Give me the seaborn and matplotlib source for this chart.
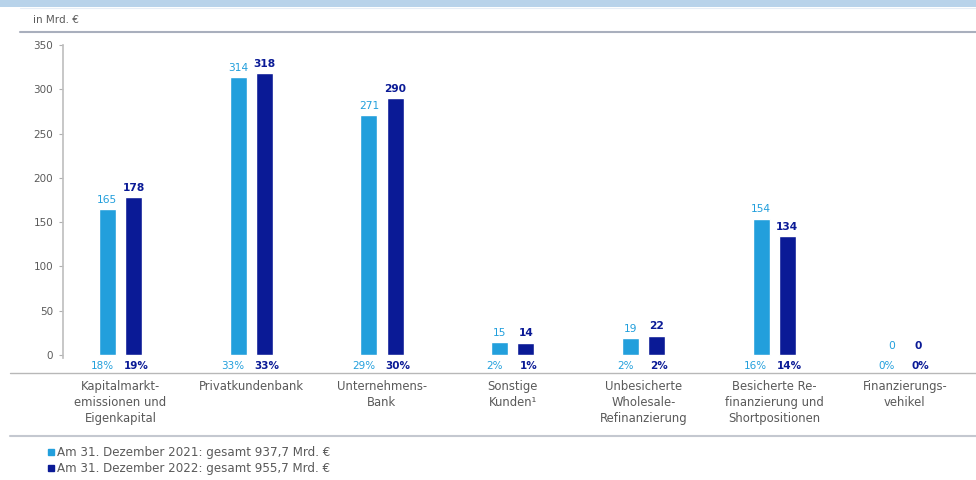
import matplotlib
matplotlib.use("Agg")
import matplotlib.pyplot as plt
from matplotlib.lines import Line2D
from matplotlib.patches import Rectangle
import seaborn as sns
import pandas as pd

categories = [
    "Kapitalmarkt-\nemissionen und\nEigenkapital",
    "Privatkundenbank",
    "Unternehmens-\nBank",
    "Sonstige\nKunden¹",
    "Unbesicherte\nWholesale-\nRefinanzierung",
    "Besicherte Re-\nfinanzierung und\nShortpositionen",
    "Finanzierungs-\nvehikel",
]
series = [
    "Am 31. Dezember 2021: gesamt 937,7 Mrd. €",
    "Am 31. Dezember 2022: gesamt 955,7 Mrd. €",
]
values_2021 = [165, 314, 271, 15, 19, 154, 0]
values_2022 = [178, 318, 290, 14, 22, 134, 0]
shares_2021 = ["18%", "33%", "29%", "2%", "2%", "16%", "0%"]
shares_2022 = ["19%", "33%", "30%", "1%", "2%", "14%", "0%"]
yticks = [0, 50, 100, 150, 200, 250, 300, 350]

LIGHT = "#229fdc"
DARK = "#0a1a96"
GREY = "#5a5a5a"

df = pd.DataFrame({
    "Kategorie": categories * 2,
    "Serie": [series[0]] * len(categories) + [series[1]] * len(categories),
    "Wert": values_2021 + values_2022,
})

sns.set_theme(style="white")
plt.rcParams["font.family"] = ["DejaVu Sans"]

fig = plt.figure(figsize=(9.76, 4.8), dpi=100)
ax = fig.add_axes([0.0645, 0.223, 0.935, 0.683])

sns.barplot(data=df, x="Kategorie", y="Wert", hue="Serie",
            palette=[LIGHT, DARK], saturation=1, width=0.4, gap=0.35,
            order=categories, hue_order=series, ax=ax, legend=True)

ax.set_xlim(-0.44, 6.54)
ax.set_ylim(-20.3, 350)
ax.set_yticks(yticks)
ax.set_yticklabels([str(t) for t in yticks], color=GREY, fontsize=7.5)
ax.set_xlabel("")
ax.set_ylabel("")
ax.tick_params(axis="y", length=3, color="#b0b0b0", width=0.8, pad=4, left=True)
ax.tick_params(axis="x", length=0, pad=5)
ax.set_xticks(range(len(categories)))
ax.set_xticklabels(categories, fontsize=8.4, color=GREY, linespacing=1.3)
for side in ["top", "right", "bottom"]:
    ax.spines[side].set_visible(False)
ax.spines["left"].set_color("#c0c0c0")
ax.spines["left"].set_bounds(-3, 350)

# value labels above bars
ax.bar_label(ax.containers[0], labels=[str(v) for v in values_2021],
             padding=3, color=LIGHT, fontsize=7.7)
ax.bar_label(ax.containers[1], labels=[str(v) for v in values_2022],
             padding=3, color=DARK, fontsize=7.7, fontweight="bold")

# share labels below the baseline
for bars, shares, col, wt, dx in [(ax.containers[0], shares_2021, LIGHT, "normal", -0.04),
                                  (ax.containers[1], shares_2022, DARK, "bold", 0.02)]:
    for bar, s in zip(bars, shares):
        ax.text(bar.get_x() + bar.get_width() / 2 + dx, -12, s, ha="center",
                va="center", color=col, fontsize=7.5, fontweight=wt)

# legend at the bottom
handles = [Line2D([], [], marker="s", linestyle="", markersize=4.5,
                  markerfacecolor=c, markeredgecolor=c) for c in (LIGHT, DARK)]
ax.legend(handles, series, loc="center left", bbox_to_anchor=(0.042, 0.041),
          bbox_transform=fig.transFigure, frameon=False, fontsize=8.6,
          labelcolor=GREY, handlelength=0.6, handletextpad=0.2,
          labelspacing=0.25, borderpad=0)

# header band and unit box
fig.patches.append(Rectangle((0, 1 - 7 / 480), 1, 7 / 480, transform=fig.transFigure,
                             facecolor="#b8d3ea", edgecolor="none", zorder=0))
fig.add_artist(Line2D([0.02, 1], [1 - 32 / 480] * 2, color="#a9afbd", lw=1.5))
fig.add_artist(Line2D([0.02, 1], [1 - 8 / 480] * 2, color="#e6eef6", lw=0.8))
fig.text(0.034, 1 - 20 / 480, "in Mrd. €", fontsize=7.5, color=GREY, va="center")

# separator lines
fig.add_artist(Line2D([0.01, 1], [1 - 373 / 480] * 2, color="#b8b8b8", lw=1.0))
fig.add_artist(Line2D([0.01, 1], [1 - 436 / 480] * 2, color="#c4c8d0", lw=1.5))

fig.savefig("out.png", dpi=100)
